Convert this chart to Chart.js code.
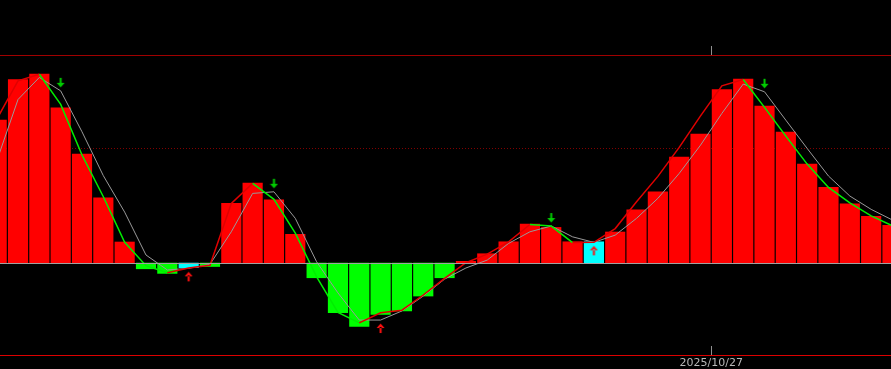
<!DOCTYPE html>
<html>
<head>
<meta charset="utf-8">
<script src="https://cdn.jsdelivr.net/npm/chart.js@4.4.1/dist/chart.umd.min.js"></script>
<style>
  html, body { margin: 0; padding: 0; background: #000; }
  canvas { display: block; }
</style>
</head>
<body>
<canvas id="macd" width="891" height="369"></canvas>
<script>
// histogram bars, one per trading day (units: dotted guide = 1.0)
var hist = [1.243, 1.597, 1.643, 1.351, 0.948, 0.568, 0.183, -0.05, -0.09, -0.04,
            -0.03, 0.519, 0.696, 0.55, 0.25, -0.128, -0.432, -0.551, -0.446, -0.417,
            -0.287, -0.128, 0.015, 0.081, 0.185, 0.339, 0.31, 0.185, 0.185, 0.27,
            0.464, 0.62, 0.922, 1.122, 1.51, 1.6, 1.365, 1.139, 0.861, 0.658,
            0.516, 0.406, 0.328];
// fast line, red when rising, green when falling
var fast = [1.25, 1.585, 1.643, 1.38, 0.94, 0.577, 0.18, -0.023, -0.084, -0.043,
            -0.02, 0.519, 0.693, 0.554, 0.26, -0.12, -0.43, -0.52, -0.432, -0.41,
            -0.278, -0.133, 0.003, 0.078, 0.185, 0.335, 0.322, 0.178, 0.18, 0.30,
            0.533, 0.754, 1.006, 1.281, 1.542, 1.597, 1.354, 1.104, 0.861, 0.658,
            0.524, 0.411, 0.324];
// slow (gray) line
var slow = [0.887, 1.423, 1.615, 1.498, 1.142, 0.76, 0.443, 0.07, -0.06, -0.046,
            -0.011, 0.272, 0.606, 0.62, 0.389, 0.011, -0.26, -0.496, -0.496, -0.417,
            -0.287, -0.14, -0.043, 0.026, 0.171, 0.272, 0.322, 0.228, 0.18, 0.243,
            0.389, 0.563, 0.78, 1.026, 1.302, 1.557, 1.49, 1.243, 0.997, 0.757,
            0.583, 0.467, 0.374];
// crossing signals (bar index)
var sellDays = [3, 13, 26, 36];
var buyDays = [9, 18, 28];
// bars highlighted in cyan
var cyanDays = [9, 28];
// date marker on the time axis
var markDay = 34;
var markLabel = '2025/10/27';
// horizontal levels
var guideLevels = [1.0];
var yRange = [-0.8, 1.81];

Chart.defaults.font.family = 'DejaVu Sans';

function xy(arr) {
    return arr.map(function (v, i) { return { x: i, y: v }; });
}

function arrow(color, down) {
    var c = document.createElement('canvas');
    c.width = 9;
    c.height = 32;
    var g = c.getContext('2d');
    g.fillStyle = color;
    g.beginPath();
    if (down) {
        g.rect(3.5, 3, 2, 6);
        g.moveTo(0.5, 8); g.lineTo(8.5, 8); g.lineTo(4.5, 12.5);
    } else {
        g.rect(3.5, 23, 2, 6);
        g.moveTo(0.5, 24); g.lineTo(8.5, 24); g.lineTo(4.5, 19.5);
    }
    g.fill();
    return c;
}

var frame = {
    id: 'frame',
    beforeDatasetsDraw: function (chart) {
        var ctx = chart.ctx, a = chart.chartArea, y = chart.scales.y;
        ctx.save();
        ctx.strokeStyle = '#800000';
        ctx.lineWidth = 1;
        ctx.setLineDash([1, 2]);
        guideLevels.forEach(function (v) {
            var py = Math.round(y.getPixelForValue(v)) + 0.5;
            ctx.beginPath();
            ctx.moveTo(a.left, py);
            ctx.lineTo(a.right, py);
            ctx.stroke();
        });
        ctx.restore();
    },
    afterDatasetsDraw: function (chart) {
        var ctx = chart.ctx, a = chart.chartArea, x = chart.scales.x, y = chart.scales.y;
        var w = a.right - a.left;
        ctx.save();
        // zero line
        ctx.fillStyle = '#a0a0a0';
        ctx.fillRect(a.left, Math.round(y.getPixelForValue(0)), w, 1);
        // top / bottom borders
        var ty = Math.round(a.top), by = Math.round(a.bottom);
        ctx.fillStyle = '#a00000';
        ctx.fillRect(a.left, ty, w, 1);
        ctx.fillStyle = '#dd0000';
        ctx.fillRect(a.left, by, w, 1);
        // date marker ticks
        var mx = Math.round(x.getPixelForValue(markDay - 0.5));
        ctx.fillStyle = '#909090';
        ctx.fillRect(mx, ty - 9, 1, 9);
        ctx.fillRect(mx, by - 9, 1, 9);
        ctx.restore();
    }
};

var ctx = document.getElementById('macd').getContext('2d');

var chart = new Chart(ctx, {
    type: 'bar',
    data: {
        datasets: [{
            type: 'line',
            label: 'sell',
            data: sellDays.map(function (i) { return { x: i, y: slow[i] }; }),
            showLine: false,
            pointStyle: arrow('#00cc00', true),
            pointRadius: 3,
            order: 1
        }, {
            type: 'line',
            label: 'buy',
            data: buyDays.map(function (i) { return { x: i, y: slow[i] }; }),
            showLine: false,
            pointStyle: arrow('#ff1010', false),
            pointRadius: 3,
            order: 1
        }, {
            type: 'line',
            label: 'fast',
            data: xy(fast),
            borderWidth: 1.5,
            borderColor: '#e00000',
            segment: {
                borderColor: function (c) {
                    return c.p1.parsed.y < c.p0.parsed.y ? '#00ee00' : '#e00000';
                }
            },
            pointRadius: 0,
            tension: 0,
            order: 2
        }, {
            type: 'line',
            label: 'slow',
            data: xy(slow),
            borderWidth: 1,
            borderColor: '#9a9a9a',
            pointRadius: 0,
            tension: 0,
            order: 3
        }, {
            label: 'hist',
            data: xy(hist),
            barThickness: 19.5,
            backgroundColor: function (c) {
                if (cyanDays.indexOf(c.dataIndex) >= 0) return '#00ffff';
                var v = hist[c.dataIndex];
                return v >= 0 ? '#ff0000' : '#00ff00';
            },
            borderWidth: 0,
            order: 4
        }]
    },
    options: {
        responsive: false,
        animation: false,
        layout: { autoPadding: false, padding: { top: 55, left: 0, right: 0, bottom: -3 } },
        plugins: {
            legend: { display: false },
            tooltip: { enabled: false }
        },
        scales: {
            x: {
                type: 'linear',
                offset: false,
                min: 0.155,
                max: 41.93,
                grid: { display: false, drawTicks: false },
                border: { display: false },
                afterBuildTicks: function (axis) {
                    axis.ticks = [{ value: markDay - 0.5 }];
                },
                ticks: {
                    autoSkip: false,
                    maxRotation: 0,
                    padding: 3,
                    color: '#b8b8b8',
                    font: { size: 11, lineHeight: 1 },
                    callback: function () { return markLabel; }
                }
            },
            y: {
                display: false,
                min: yRange[0],
                max: yRange[1]
            }
        }
    },
    plugins: [frame]
});
</script>
</body>
</html>
